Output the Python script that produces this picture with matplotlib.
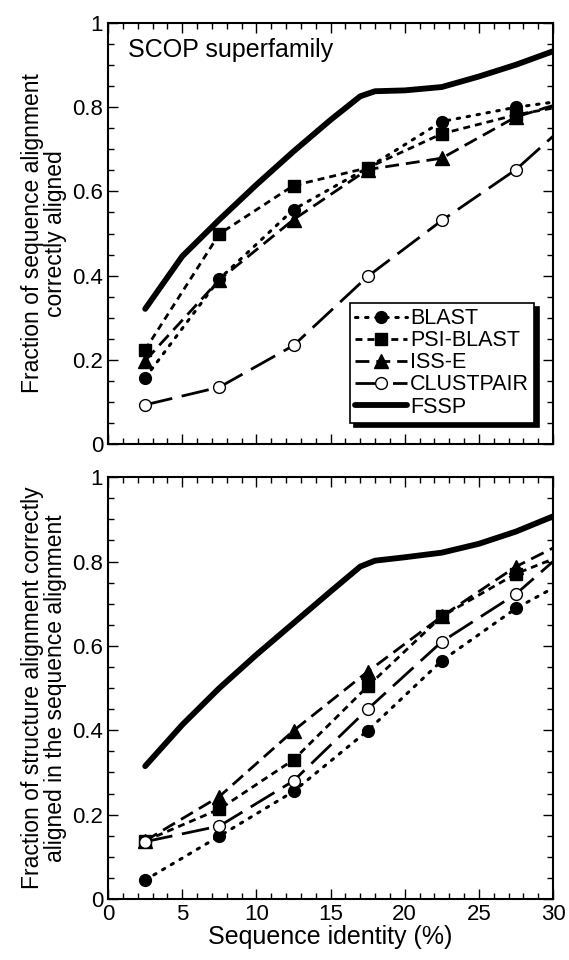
import numpy as np
import matplotlib
matplotlib.use("Agg")
import matplotlib.pyplot as plt
from matplotlib.ticker import MultipleLocator, FuncFormatter

plt.rcParams['font.family'] = ['Liberation Sans', 'DejaVu Sans']

# data
X = [2.5, 7.5, 12.5, 17.5, 22.5, 27.5, 30]
X_FSSP = [2.5, 5, 7.5, 10, 12.5, 15, 17, 18, 20, 22.5, 25, 27.5, 30]

TOP_BLAST = [0.157, 0.392, 0.557, 0.656, 0.766, 0.800, 0.812]
TOP_PSI = [0.224, 0.499, 0.614, 0.656, 0.737, 0.782, 0.798]
TOP_ISS = [0.198, 0.390, 0.533, 0.652, 0.679, 0.777, 0.804]
TOP_CLUST = [0.093, 0.135, 0.234, 0.398, 0.531, 0.652, 0.731]
TOP_FSSP = [0.321, 0.446, 0.533, 0.616, 0.695, 0.770, 0.826, 0.838, 0.840, 0.848, 0.873, 0.901, 0.933]

BOT_BLAST = [0.045, 0.149, 0.255, 0.399, 0.565, 0.689, 0.737]
BOT_PSI = [0.138, 0.213, 0.330, 0.504, 0.670, 0.771, 0.806]
BOT_ISS = [0.138, 0.243, 0.399, 0.539, 0.670, 0.788, 0.832]
BOT_CLUST = [0.136, 0.173, 0.280, 0.450, 0.610, 0.723, 0.800]
BOT_FSSP = [0.315, 0.413, 0.500, 0.579, 0.654, 0.729, 0.788, 0.802, 0.810, 0.821, 0.842, 0.871, 0.907]

LABELS = ['BLAST', 'PSI-BLAST', 'ISS-E', 'CLUSTPAIR', 'FSSP']


def draw(ax, blast, psi, iss, clust, fssp):
    n = 6  # markers only at the bin centres
    ax.plot(X, blast, color='black', lw=2.2, ls=(0, (0.8, 2.5)), dash_capstyle='round',
            marker='o', ms=8.5, markevery=list(range(n)), label=LABELS[0])
    ax.plot(X, psi, color='black', lw=2, ls=(0, (2.5, 1.8)),
            marker='s', ms=8.5, markevery=list(range(n)), label=LABELS[1])
    ax.plot(X, iss, color='black', lw=2, ls=(0, (5, 2.5)),
            marker='^', ms=9.5, markevery=list(range(n)), label=LABELS[2])
    ax.plot(X, clust, color='black', lw=2, ls=(0, (10, 3.5)),
            marker='o', ms=8.5, mfc='white', markevery=list(range(n)), label=LABELS[3])
    ax.plot(X_FSSP, fssp, color='black', lw=4.2, solid_capstyle='round',
            label=LABELS[4])

    ax.set_xlim(0, 30)
    ax.set_ylim(0, 1)
    ax.xaxis.set_major_locator(MultipleLocator(5))
    ax.xaxis.set_minor_locator(MultipleLocator(1))
    ax.yaxis.set_major_locator(MultipleLocator(0.2))
    ax.yaxis.set_minor_locator(MultipleLocator(0.05))
    ax.yaxis.set_major_formatter(FuncFormatter(lambda v, p: f"{v:g}"))
    ax.tick_params(which='both', direction='in', top=True, right=True, labelsize=16)
    ax.tick_params(which='major', length=7, width=1)
    ax.tick_params(which='minor', length=4, width=1)
    for s in ax.spines.values():
        s.set_linewidth(1.5)


fig = plt.figure(figsize=(5.69, 9.6), dpi=100)
ax1 = fig.add_axes([0.19, 0.5375, 0.782, 0.4385])
ax2 = fig.add_axes([0.19, 0.0635, 0.782, 0.4395])

draw(ax1, TOP_BLAST, TOP_PSI, TOP_ISS, TOP_CLUST, TOP_FSSP)
draw(ax2, BOT_BLAST, BOT_PSI, BOT_ISS, BOT_CLUST, BOT_FSSP)

ax1.tick_params(labelbottom=False)
ax1.text(0.045, 0.965, 'SCOP superfamily', transform=ax1.transAxes,
         fontsize=18, va='top', ha='left')

leg = ax1.legend(loc='lower right', bbox_to_anchor=(0.958, 0.05), fontsize=15.5,
                 handlelength=2.4, handletextpad=0.15, labelspacing=0.05,
                 borderpad=0.25, borderaxespad=0, fancybox=False, edgecolor='black',
                 framealpha=1, shadow={'color': 'black', 'alpha': 1, 'ox': 3, 'oy': -3})
leg.get_frame().set_linewidth(1.2)

ax1.set_ylabel('Fraction of sequence alignment\ncorrectly aligned', fontsize=16.5,
               linespacing=1.0, labelpad=4)
ax2.set_ylabel('Fraction of structure alignment correctly\naligned in the sequence alignment',
               fontsize=16.5, linespacing=1.0, labelpad=4)
ax2.set_xlabel('Sequence identity (%)', fontsize=18, labelpad=0)
fig.align_ylabels([ax1, ax2])

fig.savefig('out.png', dpi=100)
